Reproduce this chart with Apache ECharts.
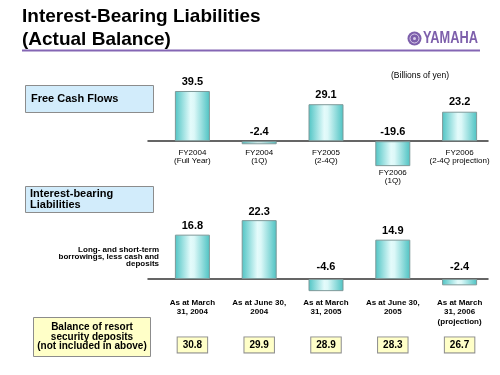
<!DOCTYPE html>
<html>
<head>
<meta charset="utf-8">
<script src="https://cdn.jsdelivr.net/npm/echarts@6/dist/echarts.min.js"></script>
<style>
html, body { margin: 0; padding: 0; background: #fff; }
#main { width: 500px; height: 375px; }
</style>
</head>
<body>
<div id="main"></div>
<script>
// Free cash flows (billions of yen)
var flowCats = ['FY2004\n(Full Year)', 'FY2004\n(1Q)', 'FY2005\n(2-4Q)', 'FY2006\n(1Q)', 'FY2006\n(2-4Q projection)'];
var flowValues = [39.5, -2.4, 29.1, -19.6, 23.2];

// Interest-bearing liabilities, net of cash and deposits
var debtCats = ['As at March\n31, 2004', 'As at June 30,\n2004', 'As at March\n31, 2005', 'As at June 30,\n2005', 'As at March\n31, 2006\n(projection)'];
var debtValues = [16.8, 22.3, -4.6, 14.9, -2.4];

// Balance of resort security deposits
var depositValues = [30.8, 29.9, 28.9, 28.3, 26.7];

var FONT = '"Liberation Sans", Arial, sans-serif';

var myChart = echarts.init(document.getElementById('main'));

var barColor = new echarts.graphic.LinearGradient(0, 0, 1, 0, [
    {offset: 0, color: '#4fc4c4'},
    {offset: 0.45, color: '#e4fbfb'},
    {offset: 0.55, color: '#dcf8f8'},
    {offset: 1, color: '#4cc2c2'}
]);

function barData(vals, posDist, negDist) {
    return vals.map(function (v) {
        return {value: v, label: {distance: v < 0 ? negDist : posDist}};
    });
}

// labels under a deep negative bar get pushed down
var flowAxisData = flowCats.map(function (c, i) {
    if (flowValues[i] < -5) {
        return {value: c, textStyle: {padding: [20, 0, 0, 0]}};
    }
    return c;
});

function lineAxis(grid) {
    return {
        type: 'value', gridIndex: grid, min: 0, max: 1,
        axisLine: {show: true, onZero: true, lineStyle: {color: '#333', width: 1.5}},
        axisTick: {show: false}, axisLabel: {show: false}, splitLine: {show: false}
    };
}

var option = {
    backgroundColor: '#fff',
    animation: false,
    textStyle: {fontFamily: FONT},
    grid: [
        {left: 159, right: 7, top: 84, height: 89},
        {left: 148, right: 12, top: 84, height: 89},
        {left: 159, right: 7, top: 213, height: 92.4},
        {left: 148, right: 12, top: 213, height: 92.4}
    ],
    xAxis: [
        {
            // labels are measured from the grid bottom, so pull them up to the zero line
            type: 'category', gridIndex: 0, data: flowAxisData,
            axisLine: {show: false, onZero: false}, axisTick: {show: false},
            axisLabel: {color: '#000', fontSize: 8, lineHeight: 8, margin: -24.5, interval: 0, fontFamily: FONT}
        },
        lineAxis(1),
        {
            type: 'category', gridIndex: 2, data: debtCats,
            axisLine: {show: false, onZero: false}, axisTick: {show: false},
            axisLabel: {color: '#000', fontSize: 8, fontWeight: 'bold', lineHeight: 9.5, margin: -7.5, interval: 0, fontFamily: FONT}
        },
        {
            type: 'category', gridIndex: 2, position: 'bottom',
            data: depositValues.map(function (v) { return v.toFixed(1); }),
            axisLine: {show: false, onZero: false}, axisTick: {show: false},
            axisLabel: {
                color: '#000', fontSize: 10, fontWeight: 'bold', margin: 32, interval: 0,
                fontFamily: FONT,
                backgroundColor: '#ffffc8', borderColor: '#8c8c8c', borderWidth: 1,
                padding: [3, 5, 2, 5]
            }
        },
        lineAxis(3)
    ],
    yAxis: [
        {type: 'value', gridIndex: 0, min: -25, max: 45, show: false},
        {type: 'value', gridIndex: 1, min: -25, max: 45, show: false},
        {type: 'value', gridIndex: 2, min: -10, max: 25, show: false},
        {type: 'value', gridIndex: 3, min: -10, max: 25, show: false}
    ],
    series: [
        {
            name: 'Free Cash Flows',
            type: 'bar', xAxisIndex: 0, yAxisIndex: 0,
            barWidth: 35,
            data: barData(flowValues, 4, 4),
            itemStyle: {color: barColor, borderColor: '#7f9999', borderWidth: 1},
            label: {show: true, position: 'top', color: '#000', fontSize: 11, fontWeight: 'bold', fontFamily: FONT}
        },
        {
            name: 'Interest-bearing Liabilities',
            type: 'bar', xAxisIndex: 2, yAxisIndex: 2,
            barWidth: 35,
            data: barData(debtValues, 3, 7),
            itemStyle: {color: barColor, borderColor: '#7f9999', borderWidth: 1},
            label: {show: true, position: 'top', color: '#000', fontSize: 11, fontWeight: 'bold', fontFamily: FONT}
        }
    ],
    graphic: [
        {type: 'text', left: 22, top: 7, style: {text: 'Interest-Bearing Liabilities', font: 'bold 19px ' + FONT, fill: '#000'}},
        {type: 'text', left: 22, top: 30, style: {text: '(Actual Balance)', font: 'bold 19px ' + FONT, fill: '#000'}},
        {type: 'line', shape: {x1: 22, y1: 50.5, x2: 480, y2: 50.5}, style: {stroke: '#8466b4', lineWidth: 2}},
        // logo
        {type: 'circle', shape: {cx: 414.5, cy: 38.5, r: 7}, style: {fill: '#7d5fab'}},
        {type: 'circle', shape: {cx: 414.5, cy: 38.5, r: 4.5}, style: {fill: 'none', stroke: '#d9cde9', lineWidth: 1}},
        {type: 'circle', shape: {cx: 414.5, cy: 38.5, r: 1.5}, style: {fill: '#d9cde9'}},
        {type: 'text', x: 423, y: 38.5, scaleX: 0.8, style: {text: 'YAMAHA', font: 'bold 16px ' + FONT, fill: '#7d5fab', verticalAlign: 'middle'}},
        {type: 'text', x: 391, y: 76, style: {text: '(Billions of yen)', font: '8.5px ' + FONT, fill: '#000', verticalAlign: 'middle'}},
        // section boxes
        {type: 'rect', shape: {x: 25.5, y: 85.5, width: 128, height: 27}, style: {fill: '#d2ecfb', stroke: '#8c8c8c', lineWidth: 1}},
        {type: 'text', x: 31, y: 99, style: {text: 'Free Cash Flows', font: 'bold 11px ' + FONT, fill: '#000', verticalAlign: 'middle'}},
        {type: 'rect', shape: {x: 25.5, y: 186.5, width: 128, height: 26}, style: {fill: '#d2ecfb', stroke: '#8c8c8c', lineWidth: 1}},
        {type: 'text', x: 30, y: 199.5, style: {text: 'Interest-bearing\nLiabilities', font: 'bold 11px ' + FONT, lineHeight: 10.5, fill: '#000', verticalAlign: 'middle'}},
        {type: 'text', x: 159, y: 256.5, style: {text: 'Long- and short-term\nborrowings, less cash and\ndeposits', font: 'bold 8px ' + FONT, lineHeight: 7, fill: '#000', align: 'right', verticalAlign: 'middle'}},
        {type: 'rect', shape: {x: 33.5, y: 317.5, width: 117, height: 39}, style: {fill: '#ffffc8', stroke: '#8c8c8c', lineWidth: 1}},
        {type: 'text', x: 92, y: 337, style: {text: 'Balance of resort\nsecurity deposits\n(not included in above)', font: 'bold 10px ' + FONT, lineHeight: 9.5, fill: '#000', align: 'center', verticalAlign: 'middle'}}
    ]
};

myChart.setOption(option);
</script>
</body>
</html>
